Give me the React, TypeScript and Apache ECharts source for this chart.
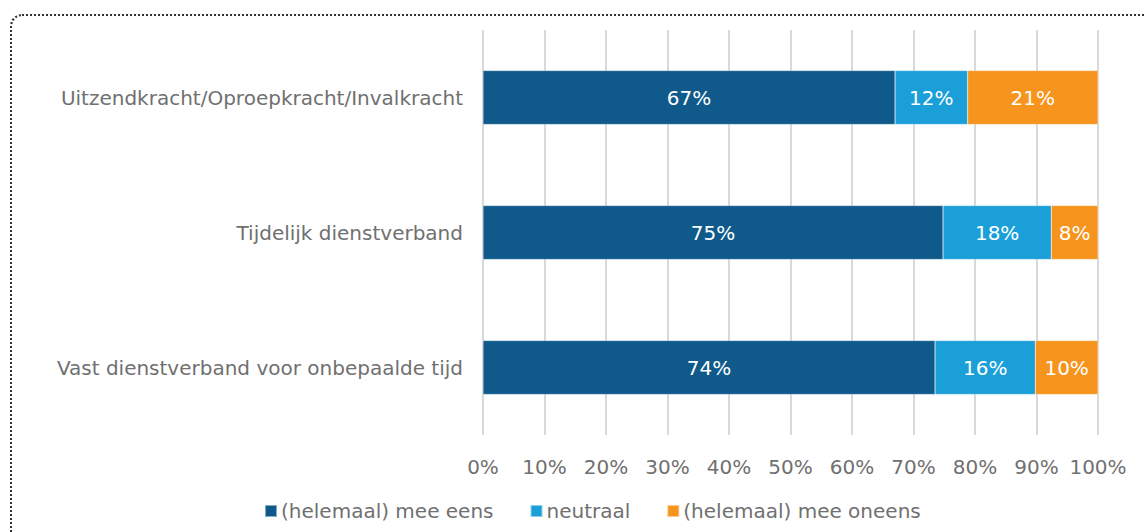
import React, { useEffect, useRef } from "react";
import * as echarts from "echarts";

const categories = [
  "Vast dienstverband voor onbepaalde tijd",
  "Tijdelijk dienstverband",
  "Uitzendkracht/Oproepkracht/Invalkracht",
];
const seriesNames = ["(helemaal) mee eens", "neutraal", "(helemaal) mee oneens"];
const eens = [73.5, 74.8, 67.0];
const neutraal = [16.3, 17.6, 11.8];
const oneens = [10.2, 7.6, 21.2];
const colors = ["#0f5a8a", "#1a9fd9", "#f7941d"];

const FONT = "'DejaVu Sans', 'Open Sans', sans-serif";
const FS = 20;
const GREY = "#707070";

export default function App() {
  const ref = useRef<HTMLDivElement>(null);
  useEffect(() => {
    document.body.style.margin = "0";
    const chart = echarts.init(ref.current!, null, { renderer: "svg" });
    const values = [eens, neutraal, oneens];
    chart.setOption({
      animation: false,
      textStyle: { fontFamily: FONT },
      grid: { left: 483, right: 47, top: 30, bottom: 97, containLabel: false },
      legend: {
        left: 259,
        top: 496,
        itemWidth: 12,
        itemHeight: 12,
        itemGap: 36,
        icon: "rect",
        textStyle: { fontSize: FS, color: GREY, fontFamily: FONT, padding: [0, 0, 0, -1] },
        data: seriesNames,
      },
      xAxis: {
        type: "value",
        min: 0,
        max: 100,
        interval: 10,
        axisLine: { show: false },
        axisTick: { show: false },
        splitLine: { lineStyle: { color: "#d9d9d9", width: 2 } },
        axisLabel: {
          formatter: "{value}%",
          fontSize: FS,
          color: GREY,
          margin: 22,
          fontFamily: FONT,
        },
      },
      yAxis: {
        type: "category",
        data: categories,
        axisLine: { show: false },
        axisTick: { show: false },
        axisLabel: { fontSize: FS, color: GREY, margin: 20, fontFamily: FONT },
      },
      series: seriesNames.map((name, i) => ({
        name,
        type: "bar",
        stack: "total",
        barWidth: 54,
        data: values[i],
        itemStyle: { color: colors[i], borderColor: "rgba(255,255,255,0.5)", borderWidth: 0.5 },
        label: {
          show: true,
          position: "inside",
          color: "#ffffff",
          fontSize: FS,
          fontFamily: FONT,
          formatter: (p: any) => Math.round(p.value) + "%",
        },
      })),
    });
    return () => chart.dispose();
  }, []);
  return (
    <div style={{ position: "relative", width: 1145, height: 532, overflow: "hidden", background: "#fff" }}>
      <div
        style={{
          position: "absolute",
          left: 10,
          top: 14,
          width: 1200,
          height: 600,
          borderTop: "2px dotted #333",
          borderLeft: "2px dotted #333",
          borderTopLeftRadius: 12,
          boxSizing: "border-box",
        }}
      />
      <div ref={ref} style={{ position: "absolute", left: 0, top: 0, width: 1145, height: 532 }} />
    </div>
  );
}
